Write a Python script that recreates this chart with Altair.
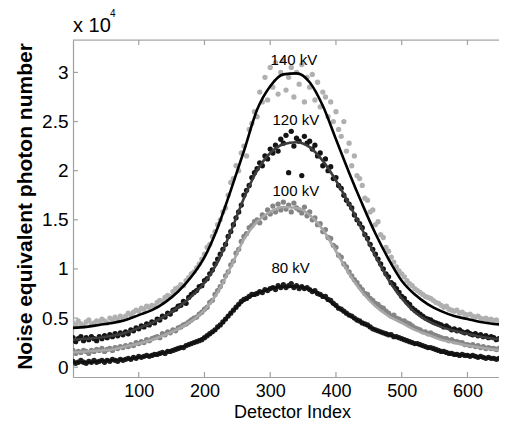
import altair as alt
import pandas as pd

# ---------------- data (values in units of 10^4) ----------------
series_names = ["140 kV", "120 kV", "100 kV", "80 kV"]

scatter_x = list(range(0, 657, 4))

pts_140 = [
    .45, .43, .47, .44, .42, .46, .48, .44, .45, .47,
    .46, .49, .47, .45, .50, .48, .51, .49, .52, .50,
    .52, .55, .53, .56, .58, .57, .60, .59, .62, .61,
    .63, .62, .66, .68, .67, .71, .73, .72, .77, .80,
    .81, .84, .83, .88, .91, .95, .97, 1.01, 1.05, 1.10,
    1.15, 1.22, 1.25, 1.33, 1.38, 1.45, 1.50, 1.58, 1.62, 1.75,
    1.88, 1.92, 2.05, 2.00, 2.18, 2.25, 2.15, 2.42, 2.48, 2.60,
    2.55, 2.80, 2.70, 2.95, 2.72, 3.05, 2.85, 3.10, 2.78, 3.00,
    3.12, 2.82, 2.95, 3.05, 2.75, 3.00, 2.88, 3.08, 2.70, 2.95,
    2.85, 2.98, 2.72, 2.90, 2.65, 2.80, 2.75, 2.55, 2.70, 2.50,
    2.60, 2.42, 2.35, 2.50, 2.20, 2.28, 2.05, 2.15, 1.95, 1.92,
    1.85, 1.72, 1.70, 1.58, 1.60, 1.45, 1.48, 1.35, 1.32, 1.22,
    1.18, 1.12, 1.07, 1.02, .98, .95, .92, .88, .85, .83,
    .80, .78, .76, .74, .72, .71, .70, .68, .66, .65,
    .63, .61, .62, .59, .58, .57, .58, .55, .56, .54,
    .53, .54, .52, .51, .52, .50, .49, .50, .48, .49,
    .47, .48, .46, .47, .46]
pts_120 = [
    .30, .26, .29, .31, .27, .30, .28, .31, .29, .27,
    .31, .29, .32, .30, .33, .31, .34, .32, .35, .33,
    .36, .34, .38, .37, .40, .39, .42, .41, .44, .43,
    .46, .45, .49, .48, .52, .51, .55, .54, .58, .59,
    .62, .63, .67, .65, .71, .74, .76, .78, .82, .83,
    .88, .90, .95, .99, 1.05, 1.10, 1.15, 1.20, 1.25, 1.33,
    1.38, 1.45, 1.52, 1.58, 1.65, 1.75, 1.80, 1.85, 1.93, 1.98,
    2.02, 2.08, 2.05, 2.15, 2.12, 2.22, 2.18, 2.26, 2.20, 2.32,
    2.28, 2.36, 1.98, 2.40, 2.25, 2.33, 2.30, 1.95, 2.35, 2.28,
    2.30, 2.22, 2.26, 2.15, 2.18, 2.05, 2.12, 2.00, 2.04, 1.92,
    1.93, 1.85, 1.82, 1.75, 1.70, 1.66, 1.62, 1.55, 1.50, 1.46,
    1.42, 1.35, 1.31, 1.25, 1.20, 1.15, 1.10, 1.05, 1.00, .95,
    .92, .86, .84, .80, .76, .72, .70, .66, .64, .60,
    .58, .56, .54, .52, .50, .49, .48, .46, .45, .44,
    .43, .41, .42, .40, .38, .39, .37, .38, .36, .35,
    .36, .34, .33, .34, .32, .33, .31, .32, .30, .31,
    .30, .28, .29, .30, .27]
pts_100 = [
    .17, .14, .16, .15, .17, .16, .14, .17, .16, .18,
    .17, .19, .16, .18, .19, .17, .20, .19, .21, .20,
    .22, .21, .23, .22, .25, .24, .26, .25, .28, .27,
    .29, .30, .31, .30, .34, .33, .36, .35, .38, .37,
    .40, .41, .43, .44, .46, .48, .50, .51, .54, .56,
    .59, .61, .66, .68, .74, .78, .82, .87, .93, .97,
    1.04, 1.08, 1.16, 1.20, 1.28, 1.33, 1.36, 1.42, 1.44, 1.48,
    1.50, 1.47, 1.55, 1.52, 1.60, 1.56, 1.64, 1.58, 1.66, 1.60,
    1.68, 1.61, 1.65, 1.58, 1.67, 1.62, 1.60, 1.57, 1.63, 1.54,
    1.58, 1.50, 1.52, 1.45, 1.46, 1.38, 1.40, 1.32, 1.31, 1.24,
    1.22, 1.14, 1.12, 1.05, 1.02, .97, .93, .89, .86, .82,
    .79, .75, .74, .70, .68, .65, .64, .61, .60, .57,
    .55, .52, .53, .50, .49, .47, .47, .45, .44, .42,
    .40, .39, .38, .36, .36, .34, .35, .33, .32, .31,
    .30, .29, .29, .27, .28, .26, .26, .25, .25, .23,
    .23, .22, .23, .21, .22, .20, .21, .19, .20, .19,
    .19, .18, .19, .17, .18]
pts_80 = [
    .06, .04, .05, .07, .05, .04, .06, .05, .07, .05,
    .06, .07, .05, .07, .06, .08, .07, .06, .08, .07,
    .08, .09, .08, .10, .09, .11, .10, .11, .12, .11,
    .12, .13, .13, .14, .15, .14, .16, .16, .17, .18,
    .19, .20, .20, .22, .23, .24, .25, .26, .27, .28,
    .30, .32, .34, .36, .38, .41, .43, .46, .49, .52,
    .55, .58, .61, .64, .67, .69, .70, .72, .74, .74,
    .75, .77, .76, .79, .78, .80, .81, .79, .83, .81,
    .84, .81, .83, .85, .81, .83, .80, .82, .80, .81,
    .79, .77, .78, .75, .74, .72, .72, .69, .68, .65,
    .63, .60, .59, .57, .55, .53, .52, .50, .48, .47,
    .45, .44, .43, .41, .39, .38, .37, .36, .35, .34,
    .33, .33, .31, .31, .30, .29, .28, .27, .26, .25,
    .24, .24, .23, .22, .21, .20, .20, .19, .18, .17,
    .16, .16, .15, .14, .14, .13, .13, .12, .13, .12,
    .12, .11, .12, .11, .10, .11, .10, .09, .10, .09,
    .09, .08, .09, .08, .08]

fit_x = list(range(0, 661, 20))
fit_140 = [0.40, 0.41, 0.43, 0.45, 0.48, 0.53, 0.58, 0.66, 0.77, 0.92, 1.12, 1.42, 1.80, 2.20, 2.62, 2.86,
           2.98, 2.99, 2.90, 2.66, 2.32, 1.98, 1.66, 1.36, 1.10, 0.88, 0.74, 0.64, 0.57, 0.52, 0.49, 0.46,
           0.44, 0.43]
fit_120 = [0.28, 0.29, 0.30, 0.32, 0.35, 0.40, 0.45, 0.52, 0.61, 0.72, 0.86, 1.07, 1.38, 1.72, 2.00, 2.18,
           2.27, 2.29, 2.24, 2.10, 1.90, 1.66, 1.40, 1.13, 0.89, 0.70, 0.56, 0.47, 0.41, 0.37, 0.34, 0.31,
           0.29, 0.28]
fit_100 = [0.15, 0.16, 0.17, 0.18, 0.21, 0.24, 0.28, 0.33, 0.39, 0.47, 0.58, 0.76, 1.02, 1.30, 1.48, 1.58,
           1.63, 1.62, 1.55, 1.40, 1.18, 0.95, 0.76, 0.62, 0.52, 0.45, 0.38, 0.33, 0.28, 0.25, 0.22, 0.20,
           0.18, 0.17]
fit_80 = [0.05, 0.05, 0.06, 0.07, 0.08, 0.10, 0.12, 0.15, 0.19, 0.24, 0.30, 0.40, 0.55, 0.68, 0.75, 0.80,
          0.82, 0.82, 0.79, 0.72, 0.62, 0.53, 0.45, 0.38, 0.33, 0.29, 0.24, 0.20, 0.16, 0.13, 0.12, 0.10,
          0.09, 0.08]

label_text = ["140 kV", "120 kV", "100 kV", "80 kV"]
label_x = [336, 339, 339, 331]
label_y = [3.13, 2.52, 1.79, 1.01]

x_ticks = [100, 200, 300, 400, 500, 600]
y_ticks = [0, 0.5, 1, 1.5, 2, 2.5, 3]

point_colors = ["#b0b0b0", "#141414", "#858585", "#1e1e1e"]
line_colors = ["#000000", "#3c3c3c", "#a8a8a8", "#101010"]

# ---------------- tables ----------------
pts_all = [pts_140, pts_120, pts_100, pts_80]
fit_all = [fit_140, fit_120, fit_100, fit_80]

rows = []
for k, (s, vals) in enumerate(zip(series_names, pts_all)):
    for xv, yv in zip(scatter_x, vals):
        rows.append({"series": s, "k": k, "x": xv, "y": yv})
scatter_df = pd.DataFrame(rows)

frows = []
for s, vals in zip(series_names, fit_all):
    for xv, yv in zip(fit_x, vals):
        frows.append({"series": s, "x": xv, "y": yv})
fit_df = pd.DataFrame(frows)

label_df = pd.DataFrame({"t": label_text, "x": label_x, "y": label_y})
xt_df = pd.DataFrame({"v": x_ticks})
yt_df = pd.DataFrame({"v": y_ticks})

FONT = "Liberation Sans"
W, H = 426, 337
AX = "#a0a0a0"

xscale = alt.Scale(domain=[0, 648], nice=False, zero=False)
yscale = alt.Scale(domain=[-0.1, 3.33], nice=False, zero=False)

x_axis = alt.Axis(values=x_ticks, ticks=False, grid=False, domainColor=AX, domainWidth=1.2,
                  labelFont=FONT, labelFontSize=18, labelColor="#000", labelPadding=5,
                  title="Detector Index", titleFont=FONT, titleFontSize=18, titleFontWeight="normal",
                  titleColor="#000", titleBaseline="middle", titleX=W / 2 + 6, titleY=35)
y_axis = alt.Axis(values=y_ticks, ticks=False, grid=False, domainColor=AX, domainWidth=1.2, format="~g",
                  labelFont=FONT, labelFontSize=19, labelColor="#000", labelPadding=5,
                  title="Noise equivalent photon number", titleFont=FONT, titleFontSize=21,
                  titleFontWeight="bold", titleColor="#000", titleBaseline="middle",
                  titleX=-48, titleY=166)

points = alt.Chart(scatter_df).mark_circle(size=28, opacity=1, clip=True).encode(
    x=alt.X("x:Q", scale=xscale, axis=x_axis),
    y=alt.Y("y:Q", scale=yscale, axis=y_axis),
    color=alt.Color("series:N", scale=alt.Scale(domain=series_names, range=point_colors), legend=None),
    order=alt.Order("k:Q"),
)

lines = alt.Chart(fit_df).mark_line(strokeWidth=2.6, interpolate="monotone", clip=True).encode(
    x=alt.X("x:Q", scale=xscale),
    y=alt.Y("y:Q", scale=yscale),
    detail="series:N",
    stroke=alt.Stroke("series:N", scale=alt.Scale(domain=series_names, range=line_colors), legend=None),
)

labels = alt.Chart(label_df).mark_text(font=FONT, fontSize=15, color="#000").encode(
    x=alt.X("x:Q", scale=xscale), y=alt.Y("y:Q", scale=yscale), text="t:N"
)

top_border = alt.Chart(pd.DataFrame({"a": [0]})).mark_rule(color=AX, strokeWidth=1.2).encode(
    x=alt.value(0), x2=alt.value(W), y=alt.value(0)
)
top_ticks = alt.Chart(xt_df).mark_rule(color=AX, strokeWidth=1.2).encode(
    x=alt.X("v:Q", scale=xscale), y=alt.value(0), y2=alt.value(5)
)
bot_ticks = alt.Chart(xt_df).mark_rule(color=AX, strokeWidth=1.2).encode(
    x=alt.X("v:Q", scale=xscale), y=alt.value(H), y2=alt.value(H - 5)
)
left_ticks = alt.Chart(yt_df).mark_rule(color=AX, strokeWidth=1.2).encode(
    y=alt.Y("v:Q", scale=yscale), x=alt.value(0), x2=alt.value(5)
)

exp_base = alt.Chart(pd.DataFrame({"t": ["x 10"]})).mark_text(
    font=FONT, fontSize=20, color="#000", align="left", baseline="alphabetic"
).encode(x=alt.value(0), y=alt.value(-8), text="t:N")
exp_sup = alt.Chart(pd.DataFrame({"t": ["4"]})).mark_text(
    font=FONT, fontSize=10, color="#000", align="left", baseline="alphabetic"
).encode(x=alt.value(37), y=alt.value(-23), text="t:N")

chart = alt.layer(
    points, lines, labels, top_border, top_ticks, bot_ticks, left_ticks, exp_base, exp_sup
).properties(
    width=W, height=H,
    autosize=alt.AutoSizeParams(type="none"),
    padding={"left": 65, "top": 32, "right": 0, "bottom": 45},
).configure_view(stroke=None).configure(background="white")

chart.save("out.html", embed_options={"renderer": "svg", "actions": False})
